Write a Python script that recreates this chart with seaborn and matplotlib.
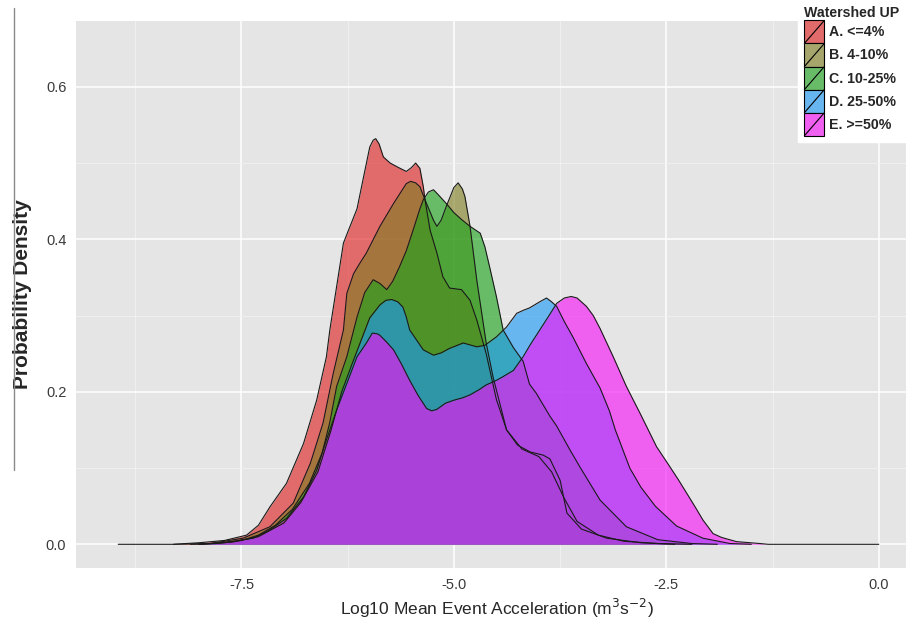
import matplotlib
matplotlib.use("Agg")
import matplotlib.pyplot as plt
import seaborn as sns
import numpy as np
from matplotlib.patches import Patch, Rectangle
from matplotlib.lines import Line2D
from matplotlib.legend_handler import HandlerBase

# ---------------- data ----------------
groups = ["A. <=4%", "B. 4-10%", "C. 10-25%", "D. 25-50%", "E. >=50%"]
fill_colors = ["#E01F1F", "#7F7F22", "#1BA41B", "#1B9AF7", "#F70EF7"]

a_x = [-8.95, -8.3, -8.0, -7.7, -7.44, -7.3, -7.165, -6.97, -6.77, -6.615, -6.5, -6.46, -6.38, -6.30,
       -6.24, -6.14, -6.07, -5.99, -5.95, -5.92, -5.88, -5.83, -5.75, -5.65, -5.56, -5.50, -5.45, -5.40,
       -5.36, -5.34, -5.28, -5.20, -5.13, -5.05, -4.91, -4.81, -4.73, -4.62, -4.50, -4.38, -4.20, -4.00,
       -3.85, -3.70, -3.55, -3.30, -3.00, -2.60, -2.20]
a_y = [0.0, 0.0, 0.002, 0.005, 0.012, 0.025, 0.049, 0.080, 0.132, 0.189, 0.246, 0.281, 0.338, 0.395,
       0.412, 0.440, 0.478, 0.521, 0.530, 0.532, 0.525, 0.508, 0.500, 0.494, 0.489, 0.494, 0.500, 0.493,
       0.469, 0.452, 0.412, 0.382, 0.351, 0.336, 0.334, 0.320, 0.294, 0.250, 0.190, 0.150, 0.125, 0.115,
       0.095, 0.060, 0.030, 0.012, 0.004, 0.001, 0.0]

b_x = [-8.3, -7.87, -7.48, -7.165, -6.89, -6.69, -6.54, -6.42, -6.30, -6.26, -6.18, -6.11, -6.03, -5.87,
       -5.71, -5.56, -5.51, -5.45, -5.40, -5.34, -5.24, -5.20, -5.15, -5.09, -5.00, -4.95, -4.90, -4.87,
       -4.81, -4.73, -4.62, -4.54, -4.38, -4.25, -4.10, -3.95, -3.87, -3.75, -3.67, -3.50, -3.20, -2.80,
       -2.40]
b_y = [0.0, 0.001, 0.008, 0.023, 0.054, 0.106, 0.159, 0.224, 0.281, 0.329, 0.355, 0.368, 0.382, 0.417,
       0.447, 0.473, 0.476, 0.474, 0.469, 0.452, 0.425, 0.417, 0.425, 0.443, 0.468, 0.474, 0.466, 0.456,
       0.417, 0.346, 0.264, 0.220, 0.150, 0.130, 0.121, 0.117, 0.112, 0.084, 0.041, 0.020, 0.008, 0.002,
       0.0]

c_x = [-8.0, -7.7, -7.5, -7.3, -7.1, -6.9, -6.7, -6.55, -6.46, -6.38, -6.26, -6.20, -6.14, -6.05, -5.95,
       -5.87, -5.79, -5.72, -5.64, -5.56, -5.48, -5.40, -5.36, -5.30, -5.24, -5.18, -5.09, -5.00, -4.90,
       -4.81, -4.69, -4.635, -4.58, -4.50, -4.42, -4.30, -4.185, -4.11, -4.03, -3.87, -3.79, -3.635,
       -3.52, -3.28, -2.97, -2.60, -2.20, -1.90]
c_y = [0.0, 0.002, 0.005, 0.012, 0.025, 0.046, 0.080, 0.120, 0.160, 0.207, 0.246, 0.272, 0.298, 0.330,
       0.347, 0.342, 0.334, 0.345, 0.364, 0.385, 0.412, 0.440, 0.452, 0.462, 0.465, 0.458, 0.447, 0.435,
       0.425, 0.417, 0.408, 0.390, 0.364, 0.325, 0.281, 0.258, 0.240, 0.210, 0.198, 0.168, 0.155, 0.124,
       0.102, 0.058, 0.023, 0.006, 0.001, 0.0]

d_x = [-8.0, -7.6, -7.3, -7.0, -6.8, -6.6, -6.45, -6.32, -6.20, -6.09, -5.99, -5.87, -5.80, -5.73, -5.66,
       -5.60, -5.56, -5.52, -5.44, -5.36, -5.24, -5.15, -5.05, -4.89, -4.73, -4.635, -4.50, -4.38, -4.26,
       -4.18, -4.11, -3.99, -3.91, -3.85, -3.79, -3.70, -3.60, -3.44, -3.28, -3.17, -3.10, -2.93, -2.80,
       -2.63, -2.38, -2.07, -1.75, -1.50]
d_y = [0.0, 0.003, 0.010, 0.028, 0.055, 0.095, 0.148, 0.200, 0.236, 0.268, 0.297, 0.314, 0.320, 0.321,
       0.318, 0.311, 0.298, 0.281, 0.268, 0.255, 0.248, 0.251, 0.257, 0.264, 0.259, 0.261, 0.272, 0.285,
       0.303, 0.307, 0.310, 0.318, 0.323, 0.318, 0.312, 0.292, 0.272, 0.237, 0.205, 0.175, 0.150, 0.100,
       0.075, 0.050, 0.024, 0.008, 0.001, 0.0]

e_x = [-8.1, -7.8, -7.6, -7.36, -7.165, -6.97, -6.77, -6.615, -6.50, -6.38, -6.26, -6.14, -6.03, -5.96,
       -5.90, -5.87, -5.79, -5.71, -5.62, -5.52, -5.42, -5.32, -5.26, -5.20, -5.10, -5.00, -4.90, -4.81,
       -4.70, -4.62, -4.50, -4.42, -4.30, -4.185, -4.10, -3.99, -3.88, -3.79, -3.70, -3.62, -3.55, -3.44,
       -3.36, -3.28, -3.125, -2.97, -2.81, -2.73, -2.615, -2.46, -2.36, -2.26, -2.15, -2.07, -1.95, -1.85,
       -1.675, -1.40, -1.30, 0.0]
e_y = [0.0, 0.001, 0.004, 0.008, 0.019, 0.034, 0.062, 0.097, 0.137, 0.176, 0.211, 0.246, 0.264, 0.277,
       0.276, 0.274, 0.265, 0.255, 0.237, 0.215, 0.195, 0.178, 0.175, 0.177, 0.185, 0.189, 0.192, 0.196,
       0.203, 0.209, 0.215, 0.220, 0.228, 0.246, 0.262, 0.281, 0.300, 0.316, 0.323, 0.325, 0.323, 0.312,
       0.300, 0.283, 0.246, 0.207, 0.172, 0.154, 0.128, 0.102, 0.085, 0.067, 0.047, 0.032, 0.014, 0.009,
       0.0035, 0.001, 0.0, 0.0]

series_x = [a_x, b_x, c_x, d_x, e_x]
series_y = [a_y, b_y, c_y, d_y, e_y]

x_ticks = [-7.5, -5.0, -2.5, 0.0]
x_ticklabels = ["-7.5", "-5.0", "-2.5", "0.0"]
y_ticks = [0.0, 0.2, 0.4, 0.6]
y_ticklabels = ["0.0", "0.2", "0.4", "0.6"]

# ---------------- style ----------------
sns.set_theme(style="darkgrid", rc={"axes.facecolor": "#E5E5E5", "grid.color": "white"})
plt.rcParams["font.family"] = ["Liberation Sans", "DejaVu Sans"]
plt.rcParams["axes.unicode_minus"] = False

fig = plt.figure(figsize=(9.06, 6.29), dpi=100)
W, H = 906, 629
left, right, top, bottom = 76, 917, 21, 568
ax = fig.add_axes([left / W, 1 - bottom / H, (right - left) / W, (bottom - top) / H])
ax.set_facecolor("#E5E5E5")

ALPHA = 0.62
for xs, ys, col in zip(series_x, series_y, fill_colors):
    ax.fill_between(xs, ys, 0, color=col, alpha=ALPHA, linewidth=0, zorder=2)
    sns.lineplot(x=xs, y=ys, ax=ax, color="#1a1a1a", linewidth=0.8, sort=False,
                 estimator=None, zorder=3)

ax.set_xlim(-9.447, 0.45)
ax.set_ylim(-0.0311, 0.6863)

ax.set_xticks(x_ticks)
ax.set_xticklabels(x_ticklabels)
ax.set_yticks(y_ticks)
ax.set_yticklabels(y_ticklabels)
ax.set_xticks([-8.75, -6.25, -3.75, -1.25], minor=True)
ax.set_yticks([0.1, 0.3, 0.5], minor=True)
ax.grid(which="major", color="white", linewidth=1.1)
ax.grid(which="minor", color="#F2F2F2", linewidth=0.6)
ax.set_axisbelow(True)
ax.tick_params(which="major", length=4, width=0.8, color="#7F7F7F", direction="out",
               labelsize=10.5, labelcolor="#3a3a3a", pad=3)
ax.tick_params(which="minor", length=0)
for s in ax.spines.values():
    s.set_visible(False)

ax.set_xlabel(r"Log10 Mean Event Acceleration (m$^3$s$^{-2}$)", fontsize=12.5, labelpad=4)
ax.set_ylabel("Probability Density", fontsize=15, fontweight="bold", labelpad=10)

# stray vertical rule at far left of the reference image
fig.add_artist(Line2D([14 / W, 14 / W], [1 - 8 / H, 1 - 470 / H], color="#8a8a8a", lw=1.0))


class KeyHandler(HandlerBase):
    def create_artists(self, legend, orig_handle, xdescent, ydescent, width, height, fontsize, trans):
        x0, y0 = -xdescent, -ydescent
        bg = Rectangle((x0, y0), width, height, facecolor="#E5E5E5", edgecolor="none", transform=trans)
        fg = Rectangle((x0, y0), width, height, facecolor=orig_handle.get_facecolor(),
                       edgecolor="black", lw=0.8, transform=trans)
        ln = Line2D([x0, x0 + width], [y0, y0 + height], color="black", lw=0.8, transform=trans)
        return [bg, fg, ln]


handles = [Patch(facecolor=c, alpha=ALPHA) for c in fill_colors]
leg = fig.legend(handles, groups, title="Watershed UP", loc="upper right",
                 bbox_to_anchor=(1.0, 1.0), bbox_transform=fig.transFigure,
                 handler_map={Patch: KeyHandler()}, prop={"weight": "bold", "size": 10.2},
                 title_fontproperties={"weight": "bold", "size": 10.2},
                 labelspacing=0.0, handleheight=2.13, handlelength=1.41, handletextpad=0.3,
                 borderpad=0.45, borderaxespad=0.0, frameon=True, fancybox=False,
                 alignment="left")
leg.get_frame().set_facecolor("white")
leg.get_frame().set_edgecolor("white")
leg.get_frame().set_alpha(1.0)

fig.savefig("out.png", dpi=100)
